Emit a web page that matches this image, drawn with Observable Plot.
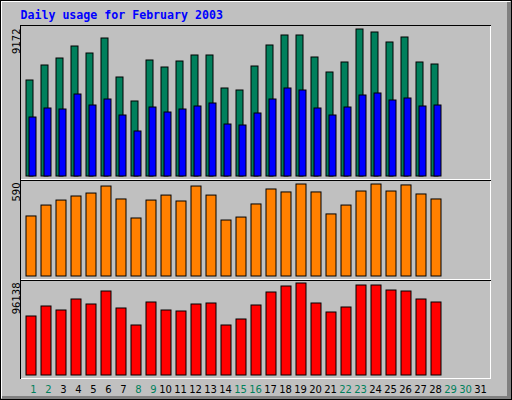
<!DOCTYPE html>
<html><head><meta charset="utf-8">
<script src="https://cdn.jsdelivr.net/npm/d3@7"></script>
<script src="https://cdn.jsdelivr.net/npm/@observablehq/plot@0.6"></script>
<style>
html,body{margin:0;padding:0;background:#fff;}
#chart{position:relative;width:512px;height:400px;background:#c0c0c0;overflow:hidden;}
</style></head><body><div id="chart"></div>
<script>
const title = "Daily usage for February 2003";
const days = d3.range(1, 32);
const hits = [5990, 6926, 7362, 8111, 7674, 8610, 6177, 4680, 7238, 6801, 7175, 7550, 7550, 5491, 5366, 6863, 8174, 8798, 8798, 7425, 6489, 7113, 9172, 8985, 8361, 8673, 7113, 6988];
const files = [3681, 4243, 4180, 5116, 4430, 4804, 3806, 2808, 4305, 3993, 4180, 4368, 4555, 3244, 3182, 3931, 4804, 5491, 5366, 4243, 3806, 4305, 5054, 5179, 4742, 4867, 4368, 4430];
const visits = [385, 455, 487, 513, 532, 577, 494, 372, 487, 519, 481, 577, 519, 359, 378, 462, 558, 539, 590, 539, 398, 455, 545, 590, 545, 584, 526, 494];
const kbytes = [61654, 72104, 67924, 79419, 74194, 87778, 70014, 52249, 76284, 67924, 66879, 74194, 75239, 52249, 58519, 73149, 86733, 93003, 96138, 75239, 65834, 71059, 94048, 94048, 88823, 87778, 79419, 76284];
const weekendDays = [1, 2, 8, 9, 15, 16, 22, 23, 29, 30];
const maxHits = 9172, maxVisits = 590, maxKbytes = 96138;

const rows = hits.map((h, i) => ({day: i + 1, hits: h, files: files[i], visits: visits[i], kbytes: kbytes[i]}));

const chart = document.getElementById("chart");
function line(x, y, w, h, c) {
  const e = document.createElement("div");
  e.style.cssText = `position:absolute;left:${x}px;top:${y}px;width:${w}px;height:${h}px;background:${c}`;
  chart.appendChild(e);
}
// outer bevel
line(1, 1, 509, 1, "#fff");
line(1, 1, 1, 397, "#fff");
line(507, 2, 4, 397, "#808080");
line(2, 396, 509, 3, "#808080");
line(0, 0, 512, 1, "#000");
line(0, 399, 512, 1, "#000");
line(0, 0, 1, 400, "#000");
line(511, 0, 1, 400, "#000");
// panel boxes
[[25, 179], [180, 279], [280, 378]].forEach(([t, b]) => {
  line(20, t, 471, 1, "#000");
  line(20, t, 1, b - t + 1, "#000");
  line(21, b, 470, 1, "#fff");
  line(490, t + 1, 1, b - t, "#fff");
});

const base = {
  width: 512, height: 400, margin: 0,
  x: {type: "linear", domain: [0, 32], range: [11, 491], axis: null},
  color: {type: "identity"},
  style: {position: "absolute", left: "0px", top: "0px", background: "transparent",
          fontFamily: "'DejaVu Sans', sans-serif", fontSize: "10px", maxWidth: "none", overflow: "visible"}
};
const yLabel = (v, dy) => Plot.text([v], {y: d => d, text: d => String(d), frameAnchor: "left", dx: 19, dy,
  rotate: -90, textAnchor: "end", lineAnchor: "bottom", fill: "#000", fontSize: 10});

const p1 = Plot.plot({...base,
  y: {domain: [0, maxHits], range: [176, 29], axis: null},
  marks: [
    Plot.text([title], {text: d => d, frameAnchor: "top-left", dx: 20, dy: 18.5, lineAnchor: "bottom", textAnchor: "start",
      fill: "#0000ff", fontFamily: "'DejaVu Sans Mono', monospace", fontWeight: "bold", fontSize: 11.6}),
    Plot.rect(rows, {x1: d => d.day, x2: d => d.day + 7 / 15, y1: 0, y2: "hits", fill: "#00805c", stroke: "#000"}),
    Plot.rect(rows, {x1: d => d.day + 3 / 15, x2: d => d.day + 10 / 15, y1: 0, y2: "files", fill: "#0000ff", stroke: "#000"}),
    yLabel(maxHits, -1)
  ]});
const p2 = Plot.plot({...base,
  y: {domain: [0, maxVisits], range: [276, 184], axis: null},
  marks: [
    Plot.rect(rows, {x1: d => d.day, x2: d => d.day + 10 / 15, y1: 0, y2: "visits", fill: "#ff8000", stroke: "#000"}),
    yLabel(maxVisits, -2)
  ]});
const p3 = Plot.plot({...base,
  y: {domain: [0, maxKbytes], range: [375, 283], axis: null},
  marks: [
    Plot.rect(rows, {x1: d => d.day, x2: d => d.day + 10 / 15, y1: 0, y2: "kbytes", fill: "#ff0000", stroke: "#000"}),
    yLabel(maxKbytes, -1),
    Plot.text(days, {x: d => d + (d < 10 ? 7 : 4) / 15, text: d => String(d), frameAnchor: "bottom", dy: -7.5,
      lineAnchor: "bottom", textAnchor: "middle", fontSize: 10,
      fill: d => weekendDays.includes(d) ? "#00805c" : "#000"})
  ]});
chart.append(p1, p2, p3);
</script></body></html>
